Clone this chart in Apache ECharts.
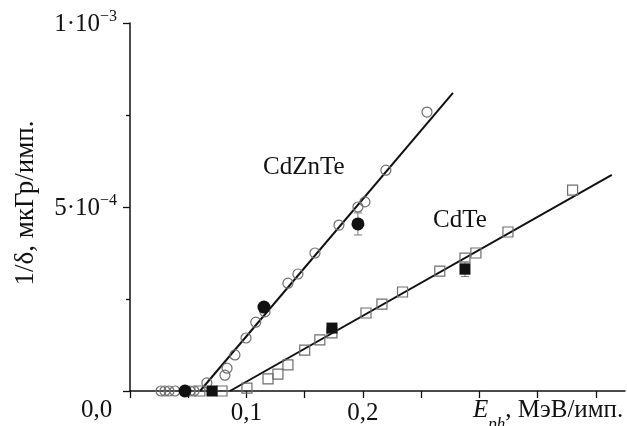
<!DOCTYPE html>
<html>
<head>
<meta charset="utf-8">
<script src="https://cdn.jsdelivr.net/npm/echarts@6/dist/echarts.min.js"></script>
<style>
html,body{margin:0;padding:0;background:#fff;}
#c{width:627px;height:426px;}
</style>
</head>
<body>
<div id="c"></div>
<script>
// ---- data ----
var cznOpenX = [0.0266,0.030,0.0335,0.0386,0.0515,0.055,0.066,0.0815,0.0833,0.0901,0.0996,0.108,0.1159,0.1356,0.1442,0.1588,0.1794,0.1957,0.2017,0.2197,0.255];
var cznOpenY = [0,0,0,0,0,0,2.2e-5,4.3e-5,6.2e-5,9.8e-5,1.44e-4,1.87e-4,2.15e-4,2.93e-4,3.18e-4,3.75e-4,4.51e-4,5.0e-4,5.14e-4,6.0e-4,7.58e-4];
var cznFilledX = [0.0472,0.115,0.1957];
var cznFilledY = [0,2.28e-4,4.54e-4];
var cznFilledErr = [0,0,3.0e-5];
var cznFitX = [0.0601,0.2773];
var cznFitY = [0,8.10e-4];

var cdteOpenX = [0.060,0.079,0.1004,0.1185,0.127,0.1356,0.150,0.163,0.1734,0.2026,0.2163,0.234,0.266,0.2876,0.297,0.3245,0.380];
var cdteOpenY = [0,0,8e-6,3.3e-5,4.6e-5,7.1e-5,1.11e-4,1.39e-4,1.58e-4,2.12e-4,2.36e-4,2.69e-4,3.26e-4,3.61e-4,3.75e-4,4.32e-4,5.46e-4];
var cdteFilledX = [0.0704,0.1734,0.2876];
var cdteFilledY = [0,1.71e-4,3.31e-4];
var cdteFilledErr = [0,0,2.0e-5];
var cdteFitX = [0.0858,0.4137];
var cdteFitY = [0,5.87e-4];

var xTickLabels = {"0.1":"0,1","0.2":"0,2"};
var yTickLabels = {"0.0005":["5·10","−4"],"0.001":["1·10","−3"]};
var originLabel = "0,0";
var seriesNames = ["CdZnTe","CdTe"];

function pairs(xs, ys){ return xs.map(function(x,i){return [x, ys[i]];}); }
function errData(xs, ys, es){ var out=[]; xs.forEach(function(x,i){ if(es[i]>0) out.push([x, ys[i]-es[i], ys[i]+es[i]]); }); return out; }

var FONT = "'Liberation Serif', 'DejaVu Serif', serif";
var chart = echarts.init(document.getElementById('c'), null, {renderer:'canvas'});

function errSeries(data){
  return {
    type:'custom', z:1,
    renderItem:function(params, api){
      var x = api.value(0);
      var lo = api.coord([x, api.value(1)]);
      var hi = api.coord([x, api.value(2)]);
      var w = 4;
      var st = {stroke:'#777', lineWidth:1, fill:null};
      return {type:'group', children:[
        {type:'line', shape:{x1:lo[0],y1:lo[1],x2:hi[0],y2:hi[1]}, style:st},
        {type:'line', shape:{x1:lo[0]-w,y1:lo[1],x2:lo[0]+w,y2:lo[1]}, style:st},
        {type:'line', shape:{x1:hi[0]-w,y1:hi[1],x2:hi[0]+w,y2:hi[1]}, style:st}
      ]};
    },
    data:data
  };
}

var option = {
  backgroundColor:'#fff',
  animation:false,
  grid:{left:130, top:23, right:2, bottom:35, containLabel:false},
  xAxis:{
    type:'value', min:0, max:0.425, interval:0.05,
    axisLine:{show:true, onZero:false, lineStyle:{color:'#111', width:1.5}},
    axisTick:{show:true, length:7, inside:false, lineStyle:{color:'#111', width:1.3}},
    splitLine:{show:false},
    axisLabel:{
      margin:10, color:'#111', fontFamily:FONT, fontSize:25,
      showMaxLabel:false,
      formatter:function(v){ var k = (Math.round(v*100)/100).toString(); return xTickLabels[k] || ''; }
    }
  },
  yAxis:{
    type:'value', min:0, max:0.001, interval:0.0005,
    axisLine:{show:true, onZero:false, lineStyle:{color:'#111', width:1.5}},
    axisTick:{show:true, length:7, lineStyle:{color:'#111', width:1.3}},
    minorTick:{show:true, splitNumber:2, length:4, lineStyle:{color:'#111', width:1.3}},
    splitLine:{show:false},
    axisLabel:{
      margin:13, color:'#111', fontFamily:FONT, fontSize:25,
      formatter:function(v){
        var k = (Math.round(v*1e4)/1e4).toString();
        var t = yTickLabels[k];
        return t ? '{m|'+t[0]+'}{s|'+t[1]+'}' : '';
      },
      rich:{
        m:{fontFamily:FONT, fontSize:25, color:'#111', verticalAlign:'bottom'},
        s:{fontFamily:FONT, fontSize:16, color:'#111', verticalAlign:'top', padding:[0,0,12,0]}
      }
    }
  },
  series:[
    {type:'line', name:seriesNames[0]+' fit', data:pairs(cznFitX,cznFitY), symbol:'none', lineStyle:{color:'#111', width:2}, z:2},
    {type:'line', name:seriesNames[1]+' fit', data:pairs(cdteFitX,cdteFitY), symbol:'none', lineStyle:{color:'#111', width:2}, z:2},
    errSeries(errData(cznFilledX,cznFilledY,cznFilledErr)),
    errSeries(errData(cdteFilledX,cdteFilledY,cdteFilledErr)),
    {type:'scatter', name:seriesNames[0], data:pairs(cznOpenX,cznOpenY), symbol:'circle', symbolSize:10,
      itemStyle:{color:'rgba(255,255,255,0)', borderColor:'#6e6e6e', borderWidth:1.2, opacity:1}, z:3},
    {type:'scatter', name:seriesNames[1], data:pairs(cdteOpenX,cdteOpenY), symbol:'rect', symbolSize:10,
      itemStyle:{color:'rgba(255,255,255,0)', borderColor:'#6e6e6e', borderWidth:1.2, opacity:1}, z:3},
    {type:'scatter', data:pairs(cznFilledX,cznFilledY), symbol:'circle', symbolSize:13,
      itemStyle:{color:'#111', opacity:1}, z:4},
    {type:'scatter', data:pairs(cdteFilledX,cdteFilledY), symbol:'rect', symbolSize:11,
      itemStyle:{color:'#111', opacity:1}, z:4}
  ],
  graphic:[
    {type:'text', left:263, top:155, style:{text:seriesNames[0], font:"25px "+FONT, fill:'#111'}},
    {type:'text', left:433, top:208, style:{text:seriesNames[1], font:"25px "+FONT, fill:'#111'}},
    {type:'text', left:81, top:398, style:{text:originLabel, font:"25px "+FONT, fill:'#111'}},
    {type:'text', left:473, top:398, style:{
      text:'{i|E}{sub|ph}{n|, МэВ/имп.}',
      rich:{
        i:{fontFamily:FONT, fontSize:25, fontStyle:'italic', fill:'#111', verticalAlign:'bottom'},
        sub:{fontFamily:FONT, fontSize:17, fontStyle:'italic', fill:'#111', verticalAlign:'bottom', padding:[0,0,-10,0]},
        n:{fontFamily:FONT, fontSize:25, fill:'#111', verticalAlign:'bottom'}
      }
    }},
    {type:'text', x:26, y:203, rotation:Math.PI/2, style:{text:'1/δ, мкГр/имп.', font:"27px "+FONT, fill:'#111', textAlign:'center', textVerticalAlign:'middle'}}
  ]
};
chart.setOption(option);
</script>
</body>
</html>
